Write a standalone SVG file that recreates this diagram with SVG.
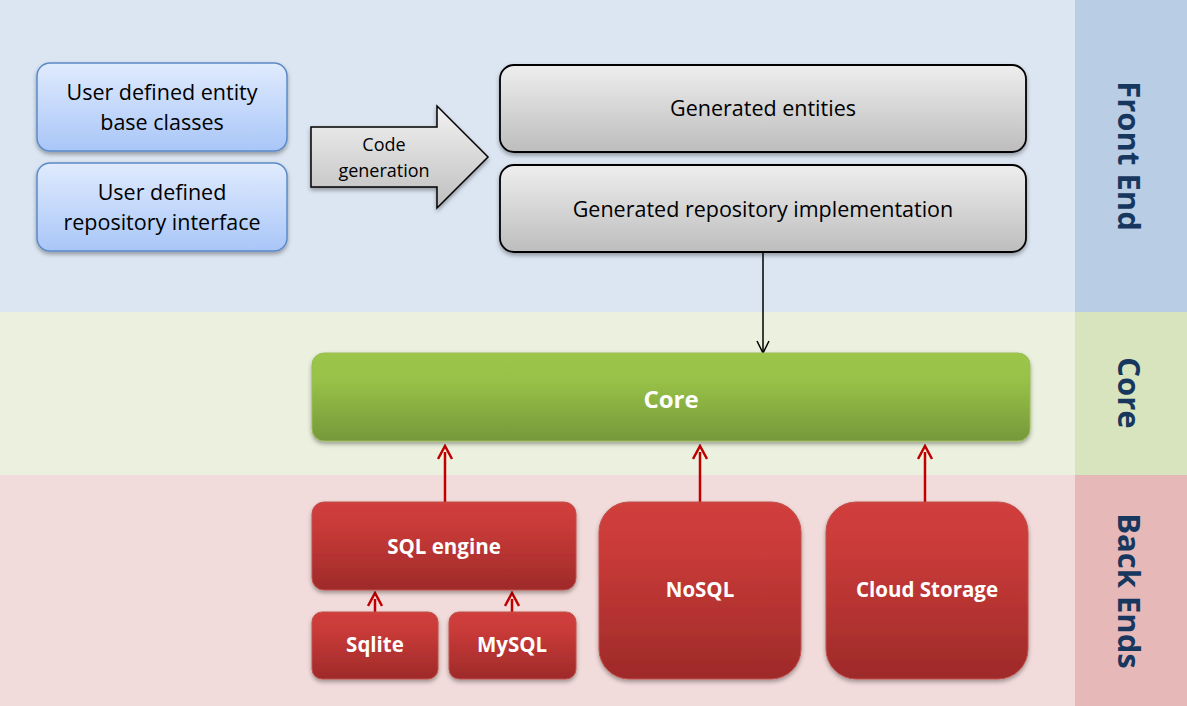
<svg xmlns="http://www.w3.org/2000/svg" width="1187" height="706" viewBox="0 0 1187 706">
<style>
.t{font-family:"Open Sans","Liberation Sans",sans-serif;text-anchor:middle;}
.dark{fill:#000;font-size:21.5px;}
.wt{fill:#fff;font-size:20.5px;font-weight:bold;}
.side{fill:#17375e;font-size:31px;font-weight:bold;}
.blue{fill:url(#gBlue);stroke:#5b8ac7;stroke-width:1.5;filter:url(#sh);}
.grey{fill:url(#gGrey);stroke:#000;stroke-width:1.8;filter:url(#sh);}
.red{fill:url(#gRed);stroke:#c0504d;stroke-width:1;filter:url(#sh);}
.rl{stroke:#c00000;stroke-width:2.5;fill:none;marker-end:url(#mRed);}
</style>
<defs>
<linearGradient id="gBlue" x1="0" y1="0" x2="0" y2="1"><stop offset="0" stop-color="#e0ebfd"/><stop offset="1" stop-color="#a9c6f8"/></linearGradient>
<linearGradient id="gGrey" x1="0" y1="0" x2="0" y2="1"><stop offset="0" stop-color="#eeeeee"/><stop offset="1" stop-color="#bdbdbd"/></linearGradient>
<linearGradient id="gArrow" x1="0" y1="0" x2="0" y2="1"><stop offset="0" stop-color="#f2f2f2"/><stop offset="1" stop-color="#bfbfbf"/></linearGradient>
<linearGradient id="gGreen" x1="0" y1="0" x2="0" y2="1"><stop offset="0" stop-color="#9cc64a"/><stop offset="0.3" stop-color="#98c247"/><stop offset="1" stop-color="#76983a"/></linearGradient>
<linearGradient id="gRed" x1="0" y1="0" x2="0" y2="1"><stop offset="0" stop-color="#d03f3c"/><stop offset="0.3" stop-color="#c83a38"/><stop offset="1" stop-color="#9e2a29"/></linearGradient>
<filter id="sh" x="-10%" y="-10%" width="120%" height="130%"><feDropShadow dx="0" dy="2.5" stdDeviation="2" flood-color="#000" flood-opacity="0.35"/></filter>
<marker id="mBlack" markerWidth="16" markerHeight="16" refX="14" refY="8" orient="auto" markerUnits="userSpaceOnUse" viewBox="0 0 16 16"><path d="M2,2 L14,8 L2,14" fill="none" stroke="#000" stroke-width="1.5"/></marker>
<marker id="mRed" markerWidth="16" markerHeight="16" refX="8" refY="8" orient="auto" markerUnits="userSpaceOnUse" viewBox="0 0 16 16"><path d="M1,15 L8,2 L15,15" transform="rotate(90 8 8)" fill="none" stroke="#c00000" stroke-width="2.5"/></marker>
</defs>
<g id="bands">
<rect x="0" y="0" width="1075" height="312" fill="#dce6f2"/>
<rect x="1075" y="0" width="112" height="312" fill="#b9cde5"/>
<rect x="0" y="312" width="1075" height="163" fill="#ebf1de"/>
<rect x="1075" y="312" width="112" height="163" fill="#d7e4bd"/>
<rect x="0" y="475" width="1075" height="231" fill="#f2dcdb"/>
<rect x="1075" y="475" width="112" height="231" fill="#e6b9b8"/>
<text class="t side" transform="translate(1118 156) rotate(90)">Front End</text>
<text class="t side" transform="translate(1118 393) rotate(90)">Core</text>
<text class="t side" transform="translate(1118 591) rotate(90)">Back Ends</text>
</g>
<g id="connectors">
<line x1="763" y1="252" x2="763" y2="353" stroke="#000" stroke-width="1.5" marker-end="url(#mBlack)"/>
<line class="rl" x1="445" y1="502" x2="445" y2="452"/>
<line class="rl" x1="700" y1="502" x2="700" y2="452"/>
<line class="rl" x1="925" y1="502" x2="925" y2="452"/>
<line class="rl" x1="375" y1="612" x2="375" y2="599"/>
<line class="rl" x1="512" y1="612" x2="512" y2="599"/>
</g>
<g id="n-entity-base">
<rect class="blue" x="37" y="63" width="250" height="88" rx="13"/>
<text class="t dark" x="162" y="100">User defined entity</text>
<text class="t dark" x="162" y="130">base classes</text>
</g>
<g id="n-repo-interface">
<rect class="blue" x="37" y="163" width="250" height="88" rx="13"/>
<text class="t dark" x="162" y="200">User defined</text>
<text class="t dark" x="162" y="230">repository interface</text>
</g>
<g id="n-codegen">
<path d="M311,127 L437,127 L437,106 L488,157 L437,208 L437,187 L311,187 Z" fill="url(#gArrow)" stroke="#000" stroke-width="1.5" filter="url(#sh)"/>
<text class="t" x="384" y="151" font-size="18" fill="#000">Code</text>
<text class="t" x="384" y="177" font-size="18" fill="#000">generation</text>
</g>
<g id="n-gen-entities">
<rect class="grey" x="500" y="65" width="526" height="87" rx="14"/>
<text class="t dark" x="763" y="116">Generated entities</text>
</g>
<g id="n-gen-repo">
<rect class="grey" x="500" y="165" width="526" height="87" rx="14"/>
<text class="t dark" x="763" y="217">Generated repository implementation</text>
</g>
<g id="n-core">
<rect x="312" y="353" width="718" height="88" rx="12" fill="url(#gGreen)" stroke="#9bbb59" stroke-width="1" filter="url(#sh)"/>
<text class="t" x="671" y="408" font-size="24" font-weight="bold" fill="#fff">Core</text>
</g>
<g id="n-sql">
<rect class="red" x="312" y="502" width="264" height="88" rx="12"/>
<text class="t wt" x="444" y="554">SQL engine</text>
</g>
<g id="n-sqlite">
<rect class="red" x="312" y="612" width="126" height="67" rx="10"/>
<text class="t wt" x="375" y="652">Sqlite</text>
</g>
<g id="n-mysql">
<rect class="red" x="449" y="612" width="127" height="67" rx="10"/>
<text class="t wt" x="512" y="652">MySQL</text>
</g>
<g id="n-nosql">
<rect class="red" x="599" y="502" width="202" height="177" rx="30"/>
<text class="t wt" x="700" y="597">NoSQL</text>
</g>
<g id="n-cloud">
<rect class="red" x="826" y="502" width="202" height="177" rx="30"/>
<text class="t wt" x="927" y="597">Cloud Storage</text>
</g>
</svg>
